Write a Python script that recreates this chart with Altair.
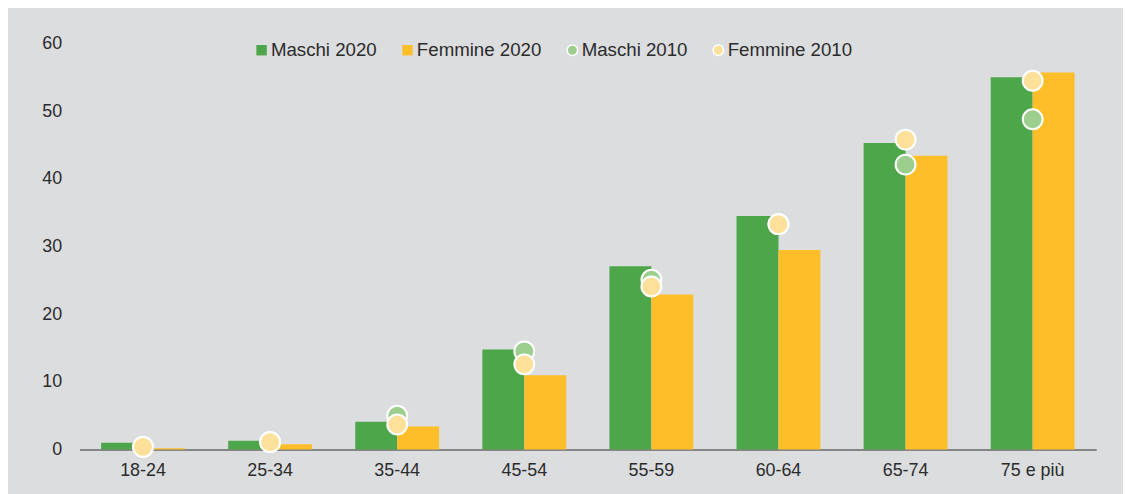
import altair as alt
import pandas as pd

categories = ["18-24", "25-34", "35-44", "45-54", "55-59", "60-64", "65-74", "75 e più"]
maschi_2020 = [1.0, 1.3, 4.1, 14.8, 27.1, 34.5, 45.3, 55.0]
femmine_2020 = [0.2, 0.8, 3.4, 11.0, 22.9, 29.5, 43.4, 55.7]
maschi_2010 = [0.4, 1.1, 5.0, 14.5, 25.1, 33.3, 42.1, 48.8]
femmine_2010 = [0.4, 1.1, 3.7, 12.6, 24.1, 33.3, 45.8, 54.5]

series_names = ["Maschi 2020", "Femmine 2020", "Maschi 2010", "Femmine 2010"]
series_colors = ["#4ea64a", "#fdbe2a", "#9ccf8e", "#fde19a"]
series_shapes = ["square", "square", "circle", "circle"]
series_strokes = ["rgba(0,0,0,0)", "rgba(0,0,0,0)", "#ffffff", "#ffffff"]

bars = pd.DataFrame(
    [{"cat": c, "serie": "Maschi 2020", "v": v, "o": 0} for c, v in zip(categories, maschi_2020)]
    + [{"cat": c, "serie": "Femmine 2020", "v": v, "o": 1} for c, v in zip(categories, femmine_2020)]
)
dots = pd.DataFrame(
    [{"cat": c, "serie": "Maschi 2010", "v": v, "o": 0} for c, v in zip(categories, maschi_2010)]
    + [{"cat": c, "serie": "Femmine 2010", "v": v, "o": 1} for c, v in zip(categories, femmine_2010)]
)

FONT = "Liberation Sans"
TXT = "#2b2b2b"

color_scale = alt.Scale(domain=series_names, range=series_colors)
shape_scale = alt.Scale(domain=series_names, range=series_shapes)
stroke_scale = alt.Scale(domain=series_names, range=series_strokes)

legend = alt.Legend(
    title=None, orient="none", direction="horizontal",
    legendX=174, legendY=-3, labelFontSize=18.8, labelFont=FONT, labelColor=TXT,
    symbolSize=110, labelOffset=0, columnPadding=21, symbolStrokeWidth=1.5,
    symbolOpacity=1,
)

x_enc = alt.X(
    "cat:N", sort=categories, title=None,
    scale=alt.Scale(paddingInner=0.34, paddingOuter=0.17),
    axis=alt.Axis(labelAngle=0, ticks=False, labelPadding=12, labelFontSize=18,
                  labelFont=FONT, labelColor=TXT, domainColor="#858585", domainWidth=2,
                  grid=False),
)
y_enc = alt.Y(
    "v:Q", title=None,
    scale=alt.Scale(domain=[0, 60], nice=False),
    axis=alt.Axis(values=[0, 10, 20, 30, 40, 50, 60], ticks=False, domain=False, grid=False,
                  labelPadding=18, labelFontSize=18, labelFont=FONT, labelColor=TXT),
)

bar_layer = alt.Chart(bars).mark_bar(opacity=1, strokeWidth=0).encode(
    x=x_enc,
    y=y_enc,
    xOffset=alt.XOffset("o:O", scale=alt.Scale(paddingInner=0, paddingOuter=0)),
    color=alt.Color("serie:N", scale=color_scale, legend=legend),
    shape=alt.Shape("serie:N", scale=shape_scale, legend=legend),
    stroke=alt.Stroke("serie:N", scale=stroke_scale, legend=legend),
)

dot_layer = alt.Chart(dots).mark_point(
    filled=True, size=400, strokeWidth=2, opacity=1, shape="circle"
).encode(
    x=alt.X("cat:N", sort=categories),
    y=alt.Y("v:Q"),
    color=alt.Color("serie:N", scale=color_scale, legend=legend),
    shape=alt.Shape("serie:N", scale=shape_scale, legend=legend),
    stroke=alt.Stroke("serie:N", scale=stroke_scale, legend=legend),
    order=alt.Order("o:Q"),
)

chart = alt.layer(bar_layer, dot_layer).properties(
    width=1024, height=409,
    autosize=alt.AutoSizeParams(type="none"),
    padding={"left": 72, "top": 34, "right": 27, "bottom": 43},
    background="#dcdddf",
).configure_view(stroke=None, fill="#dcdddf")

chart.save("out.html", embed_options={"renderer": "svg", "actions": False})
